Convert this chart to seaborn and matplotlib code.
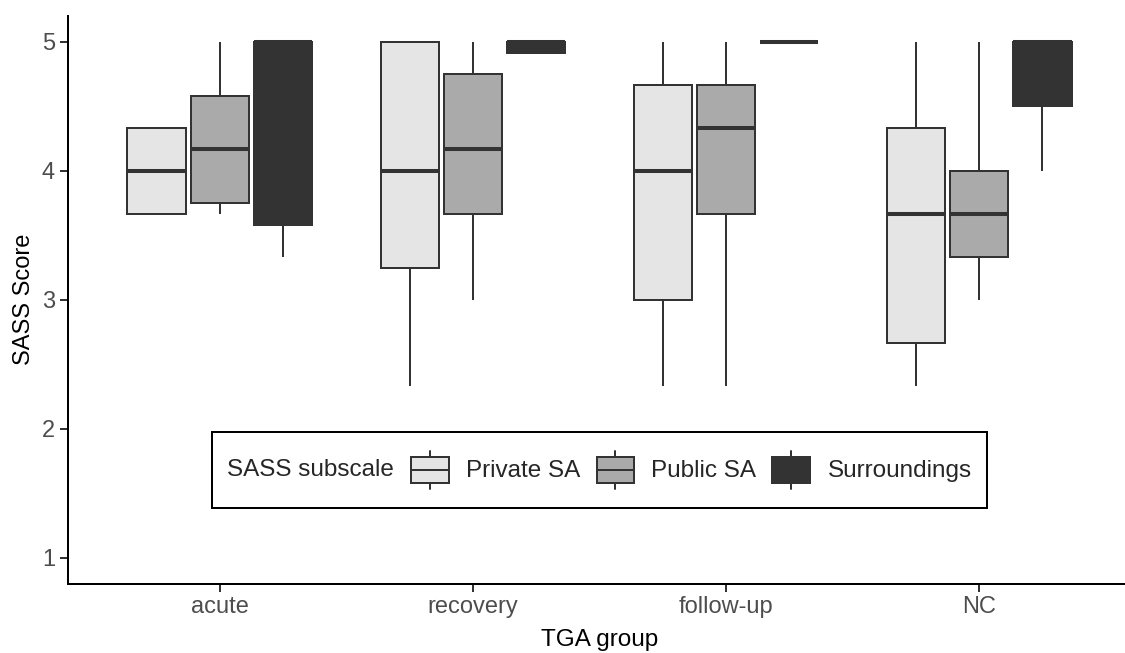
import pandas as pd
import seaborn as sns
import matplotlib.pyplot as plt
import matplotlib.patches as mpatches
from matplotlib.lines import Line2D
from matplotlib.legend_handler import HandlerBase
from matplotlib.offsetbox import HPacker

groups = ["acute", "recovery", "follow-up", "NC"]
subscales = ["Private SA", "Public SA", "Surroundings"]

private_sa = [
    [3.667, 3.667, 4.0, 4.333, 4.333],
    [2.333, 3.25, 4.0, 5.0, 5.0],
    [2.333, 3.0, 4.0, 4.667, 5.0],
    [2.333, 2.667, 3.667, 4.333, 5.0],
]
public_sa = [
    [3.667, 3.75, 4.167, 4.583, 5.0],
    [3.0, 3.667, 4.167, 4.75, 5.0],
    [2.333, 3.667, 4.333, 4.667, 5.0],
    [3.0, 3.333, 3.667, 4.0, 5.0],
]
surroundings = [
    [3.333, 3.583, 5.0, 5.0, 5.0],
    [4.917, 4.917, 5.0, 5.0, 5.0],
    [5.0, 5.0, 5.0, 5.0, 5.0],
    [4.0, 4.5, 5.0, 5.0, 5.0],
]

fills = ["#E5E5E5", "#AAAAAA", "#333333"]
line_col = "#333333"

rows = []
for sub, scores in zip(subscales, [private_sa, public_sa, surroundings]):
    for g, vals in zip(groups, scores):
        for v in vals:
            rows.append({"TGA group": g, "SASS subscale": sub, "SASS Score": v})
df = pd.DataFrame(rows)


class BoxKey(HandlerBase):
    # ggplot-like boxplot legend key
    def create_artists(self, legend, orig_handle, xdescent, ydescent,
                       width, height, fontsize, trans):
        cx = width / 2 - xdescent
        cy = height / 2 - ydescent
        bh = 1.07 * fontsize
        wl = 0.23 * fontsize
        whisk = Line2D([cx, cx], [cy - bh / 2 - wl, cy + bh / 2 + wl],
                       color=line_col, linewidth=1.44, transform=trans)
        box = mpatches.Rectangle((-xdescent, cy - bh / 2), width, bh,
                                 facecolor=orig_handle.get_facecolor(),
                                 edgecolor=line_col, linewidth=1.44,
                                 transform=trans)
        med = Line2D([-xdescent, width - xdescent], [cy, cy],
                     color=line_col, linewidth=1.44, transform=trans)
        return [whisk, box, med]


sns.set_theme(style="ticks")
plt.rcParams["font.family"] = ["Liberation Sans", "DejaVu Sans"]

W, H = 1125, 653
fig = plt.figure(figsize=(W / 100, H / 100), dpi=100)
ax = fig.add_axes([68 / W, 1 - 583.5 / H, (1131 - 68) / W, (583.5 - 16) / H])

sns.boxplot(
    data=df, x="TGA group", y="SASS Score", hue="SASS subscale",
    order=groups, hue_order=subscales, palette=fills, saturation=1,
    width=0.75, gap=0.08, linecolor=line_col, linewidth=1.44,
    whis=1.5, fliersize=0, medianprops={"linewidth": 2.9},
    capprops={"visible": False}, legend=False, ax=ax,
)

ax.set_xlim(-0.6, 3.6)
ax.set_ylim(0.8, 5.2)
ax.set_yticks([1, 2, 3, 4, 5])

for s in ["top", "right"]:
    ax.spines[s].set_visible(False)
for s in ["left", "bottom"]:
    ax.spines[s].set_color("black")
    ax.spines[s].set_linewidth(1.44)

ax.tick_params(axis="both", colors=line_col, labelcolor="#4D4D4D",
               labelsize=17, length=5.8, width=1.44, pad=3.5)
ax.set_xlabel("TGA group", fontsize=17.5, color="black", labelpad=7.5)
ax.set_ylabel("SASS Score", fontsize=17, color="black", labelpad=5)

handles = [mpatches.Patch(facecolor=c) for c in fills]
leg = ax.legend(
    handles, subscales, title="SASS subscale", loc="center",
    bbox_to_anchor=(0.5, 0.2), ncol=3, frameon=True, fancybox=False,
    edgecolor="black", framealpha=1, fontsize=17.5, title_fontsize=17.5,
    handlelength=1.56, handleheight=2.53, handletextpad=0.7,
    columnspacing=0.66, borderpad=0.62,
    handler_map={mpatches.Patch: BoxKey()},
)
leg.get_frame().set_linewidth(1.44)

# put the legend title on the left of the keys, like ggplot
vbox = leg._legend_box
title_box, entries = vbox.get_children()
hbox = HPacker(pad=vbox.pad, sep=12.2, align="center",
               children=[title_box, entries])
hbox.set_figure(fig)
hbox.axes = ax
leg._legend_box = hbox
leg._set_loc(leg._get_loc())

plt.savefig("out.png", dpi=100)
